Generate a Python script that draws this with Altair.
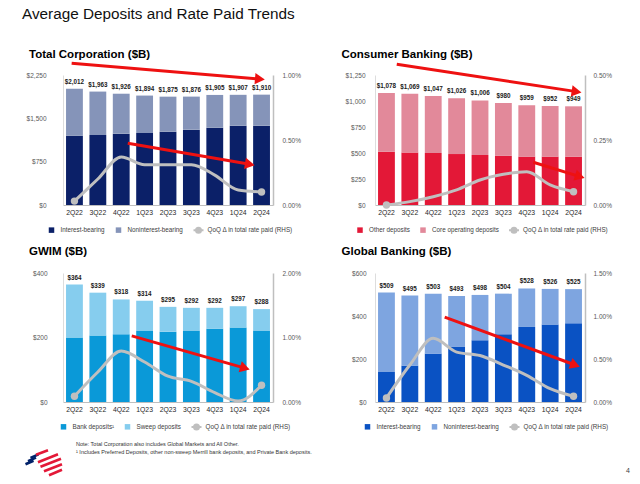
import math
import altair as alt
import pandas as pd

# ---------------- data ----------------
quarters = ["2Q22", "3Q22", "4Q22", "1Q23", "2Q23", "3Q23", "4Q23", "1Q24", "2Q24"]
RATE_LABEL = "QoQ Δ in total rate paid (RHS)"

tc_names = ["Interest-bearing", "Noninterest-bearing"]
tc_bottom = [1200, 1211, 1235, 1246, 1269, 1304, 1338, 1373, 1373]
tc_total = [2012, 1963, 1926, 1894, 1875, 1876, 1905, 1907, 1910]
tc_rate = [0.03, 0.20, 0.37, 0.31, 0.31, 0.31, 0.23, 0.115, 0.10]

cb_names = ["Other deposits", "Core operating deposits"]
cb_bottom = [513, 506, 500, 490, 481, 474, 465, 465, 465]
cb_total = [1078, 1069, 1047, 1026, 1006, 980, 959, 952, 949]
cb_rate = [0.00, 0.013, 0.032, 0.058, 0.096, 0.118, 0.128, 0.077, 0.051]

gw_names = ["Bank deposits¹", "Sweep deposits"]
gw_bottom = [200, 206, 210, 222, 218, 222, 227, 231, 222]
gw_total = [364, 339, 318, 314, 295, 292, 292, 297, 288]
gw_rate = [0.09, 0.465, 0.79, 0.62, 0.40, 0.32, 0.145, 0.015, 0.26]

gb_names = ["Interest-bearing", "Noninterest-bearing"]
gb_bottom = [140, 169, 225, 256, 287, 315, 349, 360, 366]
gb_total = [509, 495, 503, 493, 498, 504, 528, 526, 525]
gb_rate = [0.047, 0.43, 0.74, 0.58, 0.54, 0.43, 0.31, 0.155, 0.066]

# red trend arrows: (start quarter-index, start $B, end quarter-index, end $B)
tc_arrows = [(-0.12, 2452, 7.93, 2181), (2.28, 1068, 7.5, 704)]
cb_arrows = [(0.44, 1353, 8.13, 1090), (6.28, 411, 8.27, 273)]
gw_arrows = [(2.45, 205, 7.29, 105)]
gb_arrows = [(2.49, 395, 8.07, 172)]

page_title = "Average Deposits and Rate Paid Trends"
note_lines = [
    "Note: Total Corporation also includes Global Markets and All Other.",
    "¹ Includes Preferred Deposits, other non-sweep Merrill bank deposits, and Private Bank deposits.",
]
page_number = "4"

# ---------------- style ----------------
FONT = "Liberation Sans"
GRAY = "#bfbfbf"
RED = "#ee1111"
W = 210
PI, PO = 0.28, 0.13
N = len(quarters)
STEP = W / (N - PI + 2 * PO)
HALF = PO + (1 - PI) / 2
XDOM = [-HALF, N - 1 + HALF]

SQ_PATH = "M-0.55,-0.55L0.55,-0.55L0.55,0.55L-0.55,0.55Z"
LINE_PATH = "M-1,0L1,0M-0.5,0A0.5,0.5,0,1,1,0.5,0A0.5,0.5,0,1,1,-0.5,0Z"
IS_LINE = f"datum.value == '{RATE_LABEL}'"


def text_layer(txt, x, y, size, weight="normal", color="black", fnt=FONT):
    return alt.Chart(pd.DataFrame({"t": [txt]})).mark_text(
        align="left", baseline="middle", font=fnt, fontSize=size, fontWeight=weight, color=color
    ).encode(x=alt.value(x), y=alt.value(y), text="t:N")


def make_panel(title, names, colors, bottom, total, rate, ymax, yticks, rmax, rticks, H,
               arrows, lpad, rpad, legx, legy, tx, ty, extra=()):
    top = [t - b for t, b in zip(total, bottom)]
    bars_df = pd.DataFrame({
        "q": quarters * 2,
        "cat": [names[0]] * N + [names[1]] * N,
        "ord": [0] * N + [1] * N,
        "v": bottom + top,
    })
    tot_df = pd.DataFrame({"q": quarters, "total": total})
    rate_df = pd.DataFrame({"q": quarters, "r": rate, "i": list(range(N))})
    rows = []
    for (x1, y1, x2, y2) in arrows:
        dx = (x2 - x1) * STEP
        dy = -(y2 - y1) / ymax * H
        ang = math.degrees(math.atan2(dy, dx)) % 360
        rows.append(dict(x1=x1, y1=y1, x2=x2, y2=y2, ang=ang))
    arr_df = pd.DataFrame(rows)

    xs = alt.Scale(type="band", domain=quarters, paddingInner=PI, paddingOuter=PO)
    ys = alt.Scale(domain=[0, ymax], nice=False, zero=True)
    rs = alt.Scale(domain=[0, rmax], nice=False, zero=True)
    ax = alt.Scale(domain=XDOM, nice=False, zero=False)

    legend = alt.Legend(
        orient="none", legendX=legx, legendY=legy, direction="horizontal", title=None,
        symbolSize=100,
        symbolType={"expr": f"{IS_LINE} ? '{LINE_PATH}' : '{SQ_PATH}'"},
        symbolStrokeColor={"expr": f"{IS_LINE} ? '{GRAY}' : 'transparent'"},
        symbolStrokeWidth=2,
        labelFont=FONT, labelFontSize=6.3,
        labelColor="#404040", labelOffset=3, columnPadding=6, padding=0,
    )

    bars = alt.Chart(bars_df).mark_bar().encode(
        x=alt.X("q:N", scale=xs, title=None,
                axis=alt.Axis(labelAngle=0, labelFont=FONT, labelFontSize=6.8, labelColor="#262626",
                              labelPadding=4, ticks=False, domainColor=GRAY, domainWidth=1)),
        y=alt.Y("v:Q", scale=ys, stack="zero", title=None,
                axis=alt.Axis(values=yticks, labelExpr="'$' + format(datum.value, ',')",
                              labelFont=FONT, labelFontSize=6.5, labelColor="#595959",
                              labelPadding=lpad, ticks=False, grid=False, domainColor="#dddddd")),
        color=alt.Color("cat:N", scale=alt.Scale(domain=names + [RATE_LABEL], range=colors + [GRAY]),
                        legend=legend),
        order=alt.Order("ord:Q", sort="ascending"),
    )
    labels = alt.Chart(tot_df).mark_text(
        dy=-7, font=FONT, fontSize=6.3, fontWeight="bold", color="#1a1a1a"
    ).encode(
        x=alt.X("q:N", scale=xs, axis=None),
        y=alt.Y("total:Q", scale=ys, axis=None),
        text=alt.Text("total:Q", format="$,.0f"),
    )
    line = alt.Chart(rate_df).mark_line(interpolate="monotone", color=GRAY, strokeWidth=3).encode(
        x=alt.X("q:N", scale=xs, axis=None),
        y=alt.Y("r:Q", scale=rs, title=None,
                axis=alt.Axis(orient="right", values=rticks,
                              labelExpr="format(datum.value, '.2f') + '%'",
                              labelFont=FONT, labelFontSize=6.5, labelColor="#595959",
                              labelPadding=rpad, ticks=False, grid=False,
                              domainColor=GRAY, domainWidth=1.5)),
    )
    pts = alt.Chart(rate_df).transform_filter(
        f"datum.i == 0 || datum.i == {N - 1}"
    ).mark_circle(size=55, color=GRAY, opacity=1).encode(
        x=alt.X("q:N", scale=xs, axis=None),
        y=alt.Y("r:Q", scale=rs, axis=None),
    )
    arrow_lines = alt.Chart(arr_df).mark_rule(color=RED, strokeWidth=3).encode(
        x=alt.X("x1:Q", scale=ax, axis=None), x2="x2:Q",
        y=alt.Y("y1:Q", scale=ys, axis=None), y2="y2:Q",
    )
    heads = alt.Chart(arr_df).mark_point(
        shape="triangle-right", filled=True, size=130, color=RED, opacity=1
    ).encode(
        x=alt.X("x2:Q", scale=ax, axis=None),
        y=alt.Y("y2:Q", scale=ys, axis=None),
        angle=alt.Angle("ang:Q", scale=None),
    )
    ttl = text_layer(title, tx, ty, 11.5, weight="bold")
    layers = [bars, labels, line, pts, arrow_lines, heads, ttl] + list(extra)
    return alt.layer(*layers).resolve_scale(x="independent", y="independent").properties(width=W, height=H)


# page title (inside first panel, relative to its plot origin)
title_layer = text_layer(page_title, -41, -61.2, 15.3, color="#111111")

# footer inside bottom-left panel
note1 = text_layer(note_lines[0], 13, 171.3, 5.5, color="#333333")
note2 = text_layer(note_lines[1], 13, 178.6, 5.5, color="#333333")
logo_df = pd.DataFrame({
    "x": [25.5, 28.0, 30.5, 36.0, 38.0, 40.5, 44.0, 49.0],
    "y": [466.0, 462.8, 459.6, 456.5, 464.0, 468.5, 473.0, 477.0],
    "x2": [33.5, 36.0, 38.5, 48.0, 58.0, 61.0, 62.0, 62.0],
    "y2": [462.5, 459.3, 456.1, 452.0, 456.0, 460.5, 466.0, 471.5],
    "c": ["#012169"] * 3 + ["#e31837"] * 5,
})
logo_df[["x", "x2"]] = logo_df[["x", "x2"]] - 63
logo_df[["y", "y2"]] = logo_df[["y", "y2"]] - 274.7
logo = alt.Chart(logo_df).mark_rule(strokeWidth=2.6).encode(
    x=alt.X("x:Q", scale=None), x2="x2:Q",
    y=alt.Y("y:Q", scale=None), y2="y2:Q",
    color=alt.Color("c:N", scale=None),
)
pnum = text_layer(page_number, 251, 198.3, 7, color="#404040")

tc = make_panel("Total Corporation ($B)", tc_names, ["#0b2068", "#8594b9"], tc_bottom, tc_total, tc_rate,
                2250, [0, 750, 1500, 2250], 1.0, [0, 0.5, 1.0], 130, tc_arrows,
                17, 9, -17.5, 149, -34, -20, extra=[title_layer])
cb = make_panel("Consumer Banking ($B)", cb_names, ["#e31837", "#e2899a"], cb_bottom, cb_total, cb_rate,
                1250, [0, 250, 500, 750, 1000, 1250], 0.5, [0, 0.25, 0.5], 130, cb_arrows,
                10, 8, -21, 149, -33.5, -20)
gw = make_panel("GWIM ($B)", gw_names, ["#0a99d8", "#86cdee"], gw_bottom, gw_total, gw_rate,
                400, [0, 200, 400], 2.0, [0, 1.0, 2.0], 129, gw_arrows,
                16, 9, -5.5, 147.7, -34, -20.7, extra=[note1, note2, logo])
gb = make_panel("Global Banking ($B)", gb_names, ["#0a52c3", "#7ea5e0"], gb_bottom, gb_total, gb_rate,
                600, [0, 200, 400, 600], 1.5, [0, 0.5, 1.0, 1.5], 129, gb_arrows,
                9, 8, -13.5, 147.7, -33.5, -20.7, extra=[pnum])

chart = alt.concat(
    tc, cb, gw, gb, columns=2, spacing={"row": 68, "column": 102}, bounds="flush"
).resolve_scale(
    x="independent", y="independent", color="independent"
).properties(
    padding={"left": 22, "top": 6, "right": 4, "bottom": 4},
    background="white",
).configure_view(stroke=None)

chart.save("out.html", embed_options={"renderer": "svg", "actions": False})
